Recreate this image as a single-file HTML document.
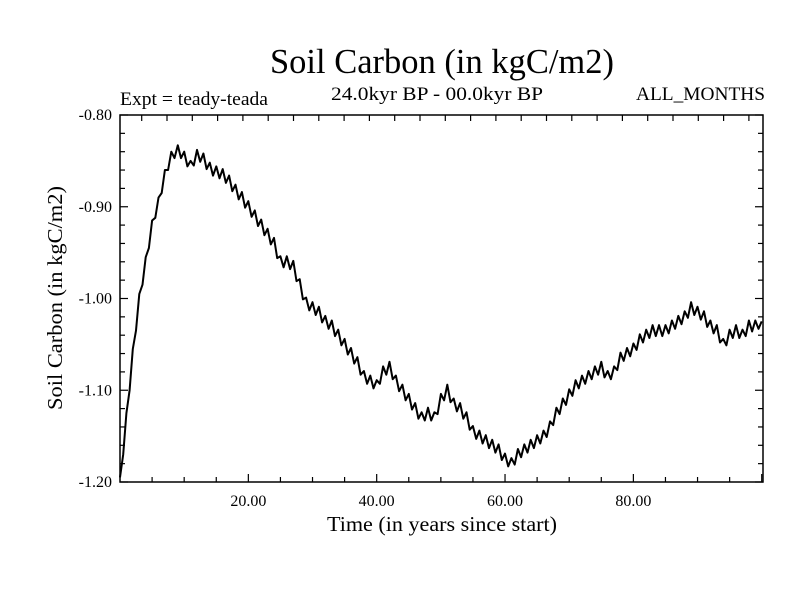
<!DOCTYPE html>
<html><head><meta charset="utf-8"><style>
body{margin:0;background:#fff}
svg{display:block}
text{font-family:"Liberation Serif",serif;fill:#000}
</style></head><body>
<svg id="chart" width="800" height="600" viewBox="0 0 800 600" xmlns="http://www.w3.org/2000/svg">
<rect width="800" height="600" fill="#fff"/>
<text x="270" y="73" font-size="35" textLength="344" lengthAdjust="spacingAndGlyphs">Soil Carbon (in kgC/m2)</text>
<text x="120" y="105" font-size="19" textLength="148" lengthAdjust="spacingAndGlyphs">Expt = teady-teada</text>
<text x="331" y="100" font-size="19" textLength="212" lengthAdjust="spacingAndGlyphs">24.0kyr BP - 00.0kyr BP</text>
<text x="636" y="100" font-size="19" textLength="129" lengthAdjust="spacingAndGlyphs">ALL_MONTHS</text>
<text x="327" y="531" font-size="21" textLength="230" lengthAdjust="spacingAndGlyphs">Time (in years since start)</text>
<text x="0" y="0" font-size="21" text-anchor="middle" textLength="224" lengthAdjust="spacingAndGlyphs" transform="translate(62,298) rotate(-90)">Soil Carbon (in kgC/m2)</text>
<g id="ticks"></g>
<g id="labels"></g>
<rect x="120" y="115" width="643" height="367" fill="none" stroke="#000" stroke-width="1.5"/>
<polyline id="series" fill="none" stroke="#000" stroke-width="2" stroke-linejoin="round"/>
</svg>
<script>
const xStep = 0.5;
const values = [
-1.195,-1.17,-1.125,-1.10,-1.055,-1.035,-0.995,-0.985,-0.955,-0.945,
-0.915,-0.912,-0.89,-0.885,-0.86,-0.86,-0.84,-0.847,-0.833,-0.847,
-0.84,-0.856,-0.85,-0.855,-0.838,-0.851,-0.842,-0.859,-0.852,-0.866,
-0.856,-0.869,-0.859,-0.874,-0.866,-0.883,-0.876,-0.892,-0.884,-0.901,
-0.894,-0.911,-0.904,-0.921,-0.914,-0.931,-0.924,-0.941,-0.934,-0.956,
-0.954,-0.966,-0.954,-0.968,-0.959,-0.981,-0.979,-1.001,-0.999,-1.013,
-1.004,-1.018,-1.009,-1.026,-1.019,-1.033,-1.024,-1.041,-1.034,-1.051,
-1.044,-1.061,-1.054,-1.071,-1.064,-1.083,-1.079,-1.093,-1.084,-1.098,
-1.089,-1.093,-1.074,-1.083,-1.069,-1.088,-1.084,-1.101,-1.094,-1.111,
-1.104,-1.121,-1.114,-1.131,-1.124,-1.133,-1.119,-1.133,-1.124,-1.126,
-1.104,-1.111,-1.094,-1.113,-1.109,-1.123,-1.114,-1.131,-1.124,-1.143,
-1.139,-1.153,-1.144,-1.158,-1.149,-1.163,-1.154,-1.168,-1.159,-1.176,
-1.169,-1.183,-1.174,-1.181,-1.164,-1.173,-1.159,-1.168,-1.154,-1.163,
-1.149,-1.158,-1.144,-1.151,-1.134,-1.138,-1.119,-1.126,-1.109,-1.116,
-1.099,-1.106,-1.089,-1.098,-1.084,-1.093,-1.079,-1.088,-1.074,-1.083,
-1.069,-1.086,-1.079,-1.088,-1.074,-1.078,-1.059,-1.068,-1.054,-1.063,
-1.049,-1.056,-1.039,-1.048,-1.034,-1.043,-1.029,-1.041,-1.029,-1.041,
-1.029,-1.038,-1.024,-1.033,-1.019,-1.028,-1.014,-1.021,-1.004,-1.018,
-1.009,-1.023,-1.014,-1.031,-1.024,-1.038,-1.029,-1.048,-1.044,-1.051,
-1.034,-1.043,-1.029,-1.043,-1.034,-1.041,-1.024,-1.036,-1.024,-1.033,
-1.025
];
const xTickValues = [20, 40, 60, 80];
const xTickLabels = ["20.00", "40.00", "60.00", "80.00"];
const yTickValues = [-0.8, -0.9, -1.0, -1.1, -1.2];
const yTickLabels = ["-0.80", "-0.90", "-1.00", "-1.10", "-1.20"];

const L=120,R=763,T=115,B=482, XMIN=0, XMAX=100.2, YMIN=-1.2, YMAX=-0.8;
function sx(v){return L+(v-XMIN)/(XMAX-XMIN)*(R-L);}
function sy(v){return B-(v-YMIN)/(YMAX-YMIN)*(B-T);}
const NS="http://www.w3.org/2000/svg";
const tg=document.getElementById('ticks'), lg=document.getElementById('labels');
function line(x1,y1,x2,y2,name){
  const l=document.createElementNS(NS,'line');
  l.setAttribute('x1',x1);l.setAttribute('y1',y1);l.setAttribute('x2',x2);l.setAttribute('y2',y2);
  l.setAttribute('stroke','#000');l.setAttribute('stroke-width','1.2');
  
  
  tg.appendChild(l);
}
for(let v=5; v<XMAX; v+=5){const x=sx(v); const major=v%20===0; line(x,B,x,B-(major?8:5),'x-tick');}
for(let x=141.7; x<R; x+=25.3){line(x,T,x,T+6,'top-tick');}
for(let i=0;i<=20;i++){const v=YMIN+i*0.02; const y=sy(v); const major=i%5===0;
  line(L,y,L+(major?8:5),y,'y-tick'); line(R,y,R-(major?8:5),y,'right-tick');}
xTickValues.forEach((v,i)=>{
  const t=document.createElementNS(NS,'text');
  t.setAttribute('x',sx(v));t.setAttribute('y',506);t.setAttribute('font-size','16');t.setAttribute('text-anchor','middle');
  t.textContent=xTickLabels[i];
  
  
  lg.appendChild(t);
});
yTickValues.forEach((v,i)=>{
  const t=document.createElementNS(NS,'text');
  t.setAttribute('x',112);t.setAttribute('y',sy(v)+5);t.setAttribute('font-size','16');t.setAttribute('text-anchor','end');
  t.textContent=yTickLabels[i];
  
  
  lg.appendChild(t);
});
document.getElementById('series').setAttribute('points', values.map((v,i)=>sx(i*xStep).toFixed(1)+','+sy(v).toFixed(1)).join(' '));
</script>
</body></html>
